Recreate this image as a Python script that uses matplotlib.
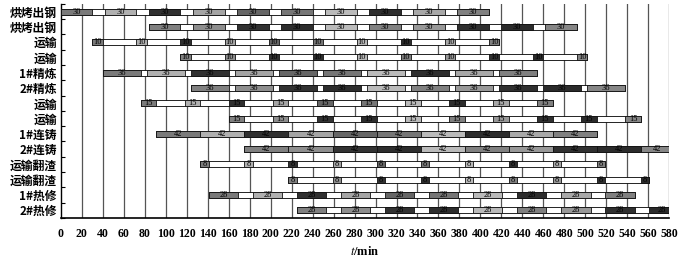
import matplotlib.pyplot as plt
import numpy as np

plt.rcParams['mathtext.fontset'] = 'stix'

# row labels, top to bottom
rows = ['烘烤出钢', '烘烤出钢', '运输', '运输', '1#精炼', '2#精炼', '运输', '运输',
        '1#连铸', '2#连铸', '运输翻渣', '运输翻渣', '1#热修', '2#热修']

# start times (min) of each operation, per row
bake1_start = [0, 42, 84, 126, 168, 210, 252, 294, 336, 378]
bake2_start = [84, 126, 168, 210, 252, 294, 336, 378, 420, 462]
trans1_start = [30, 72, 114, 156, 198, 240, 282, 324, 366, 408]
trans2_start = [114, 156, 198, 240, 282, 324, 366, 408, 450, 492]
refine1_start = [40, 82, 124, 166, 208, 250, 292, 334, 376, 418]
refine2_start = [124, 166, 208, 250, 292, 334, 376, 418, 460, 502]
trans3_start = [76, 118, 160, 202, 244, 286, 328, 370, 412, 454]
trans4_start = [160, 202, 244, 286, 328, 370, 412, 454, 496, 538]
cast1_start = [91, 133, 175, 217, 259, 301, 343, 385, 427, 469]
cast2_start = [175, 217, 259, 301, 343, 385, 427, 469, 511, 553]
slag1_start = [133, 175, 217, 259, 301, 343, 385, 427, 469, 511]
slag2_start = [217, 259, 301, 343, 385, 427, 469, 511, 553]
repair1_start = [141, 183, 225, 267, 309, 351, 393, 435, 477, 519]
repair2_start = [225, 267, 309, 351, 393, 435, 477, 519, 561]

# operation durations (min), per row
durations = [30, 30, 10, 10, 36, 36, 15, 15, 42, 42, 8, 8, 28, 28]

starts = [bake1_start, bake2_start, trans1_start, trans2_start,
          refine1_start, refine2_start, trans3_start, trans4_start,
          cast1_start, cast2_start, slag1_start, slag2_start,
          repair1_start, repair2_start]

# grey shade for each heat, line 1 (odd rows) and line 2 (even rows)
shades1 = ['#7a7a7a', '#b0b0b0', '#303030', '#a4a4a4', '#666666',
           '#767676', '#bababa', '#2d2d2d', '#a8a8a8', '#808080']
shades2 = ['#808080', '#8e8e8e', '#323232', '#2d2d2d', '#bababa',
           '#808080', '#989898', '#303030', '#2b2b2b', '#868686']

xmax = 580
fig = plt.figure(figsize=(7, 2.61), dpi=100)
ax = fig.add_axes([0.087, 0.165, 0.869, 0.82])

bh = 0.4
for i, (st, d) in enumerate(zip(starts, durations)):
    shades = shades1 if i % 2 == 0 else shades2
    # white background strip between operations
    ax.barh(i, st[-1] + d - st[0], left=st[0], height=bh, color='white',
            edgecolor='black', linewidth=0.6, zorder=2)
    ax.barh(i, [d] * len(st), left=st, height=bh, color=shades[:len(st)],
            edgecolor='#111111', linewidth=0.6, zorder=3)
    for s in st:
        cx = min(s + d / 2, (s + xmax) / 2 + 2)
        ax.text(cx, i, str(d), ha='center', va='center', fontsize=6,
                family='Liberation Serif', zorder=4)

ax.set_xlim(0, xmax)
ax.set_ylim(len(rows) - 0.5, -0.5)
ax.set_xticks(np.arange(0, xmax + 1, 20))
ax.tick_params(axis='x', length=0, pad=7)
for lab in ax.get_xticklabels():
    lab.set_family('Liberation Serif')
    lab.set_fontweight('bold')
    lab.set_fontsize(8.5)
for x in np.arange(20, xmax + 1, 20):
    ax.axvline(x, color='#555555', linewidth=0.9, zorder=1)

ax.set_yticks(np.arange(-0.5, len(rows), 1))
ax.set_yticklabels([])
ax.tick_params(axis='y', direction='in', length=3, width=0.8)
ax.set_yticks(np.arange(len(rows)), minor=True)
ax.set_yticklabels(rows, minor=True, family=['Noto Sans CJK SC', 'DejaVu Sans'],
                   fontsize=8.5, fontweight='bold')
ax.tick_params(axis='y', which='minor', length=0, pad=3)

ax.spines['top'].set_visible(False)
ax.spines['right'].set_visible(False)
ax.spines['left'].set_linewidth(1.0)
ax.spines['bottom'].set_linewidth(1.2)

ax.set_xlabel(r'$t$/min', fontsize=9, family='Liberation Serif',
              fontweight='bold', labelpad=4)

fig.savefig('out.png', dpi=100)
